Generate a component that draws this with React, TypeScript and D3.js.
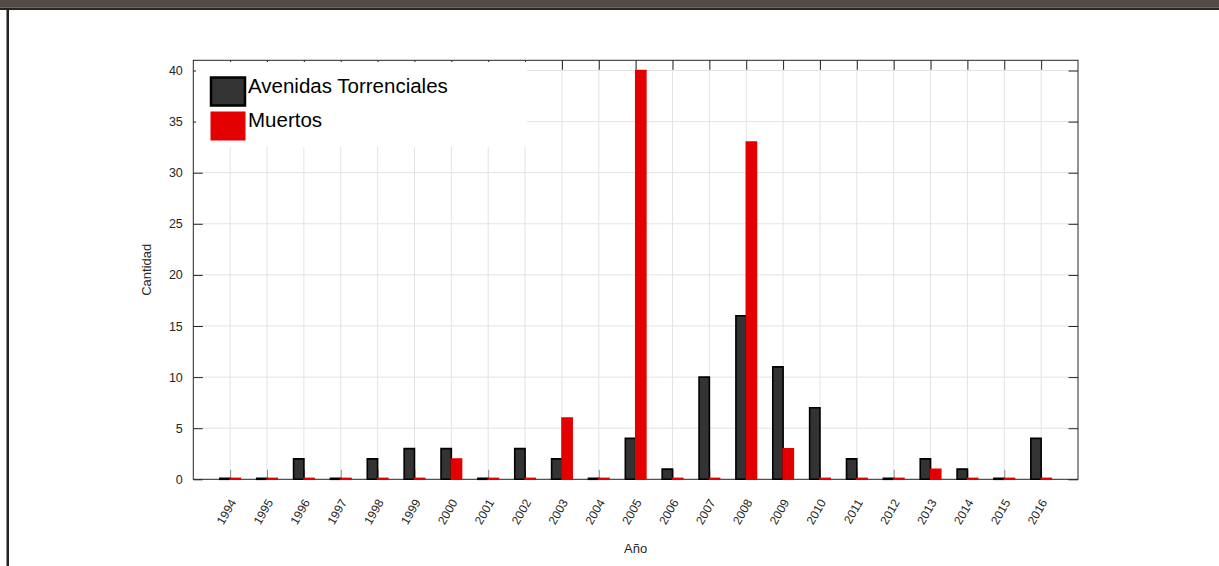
import * as d3 from 'd3'
import React from 'react'

// years on the x axis
const years: number[] = [
    1994, 1995, 1996, 1997, 1998, 1999, 2000, 2001, 2002, 2003, 2004, 2005, 2006, 2007, 2008,
    2009, 2010, 2011, 2012, 2013, 2014, 2015, 2016,
]

// Avenidas Torrenciales per year
const avenidas: number[] = [0, 0, 2, 0, 2, 3, 3, 0, 3, 2, 0, 4, 1, 10, 16, 11, 7, 2, 0, 2, 1, 0, 4]

// Muertos per year
const muertos: number[] = [0, 0, 0, 0, 0, 0, 2, 0, 0, 6, 0, 40, 0, 0, 33, 3, 0, 0, 0, 1, 0, 0, 0]

const yTicks: number[] = [0, 5, 10, 15, 20, 25, 30, 35, 40]

const seriesNames = ['Avenidas Torrenciales', 'Muertos']

const W = 1219
const H = 566
const plot = { left: 193.3, right: 1078, top: 60.3, bottom: 479.3 }
const font = '"Liberation Sans", Arial, Helvetica, sans-serif'
const axisColor = '#262626'
const gridColor = '#e3e3e3'
const barW = 0.28 // in years

const App: React.FC = () => {
    const svgRef = React.useRef<SVGSVGElement | null>(null)

    React.useEffect(() => {
        const svg = d3.select(svgRef.current)
        svg.selectAll('*').remove()

        const x = d3.scaleLinear().domain([1993, 2017]).range([plot.left, plot.right])
        const y = d3.scaleLinear().domain([0, 41]).range([plot.bottom, plot.top])

        // window frame
        svg.append('rect').attr('x', 0).attr('y', 0).attr('width', W).attr('height', H).attr('fill', '#fff')
        svg.append('rect').attr('x', 0).attr('y', 0).attr('width', W).attr('height', 7.5).attr('fill', '#534a46')
        svg.append('rect').attr('x', 0).attr('y', 7.5).attr('width', W).attr('height', 2.5).attr('fill', '#2a2422')
        svg.append('rect').attr('x', 6.5).attr('y', 8).attr('width', 2.5).attr('height', H - 8).attr('fill', '#222')

        // grid
        const grid = svg.append('g')
        grid.selectAll('line.gx')
            .data(years)
            .join('line')
            .attr('class', 'gx')
            .attr('x1', (d) => x(d))
            .attr('x2', (d) => x(d))
            .attr('y1', plot.top)
            .attr('y2', plot.bottom)
            .attr('stroke', gridColor)
            .attr('stroke-width', 1)
        grid.selectAll('line.gy')
            .data(yTicks.slice(1))
            .join('line')
            .attr('class', 'gy')
            .attr('x1', plot.left)
            .attr('x2', plot.right)
            .attr('y1', (d) => y(d))
            .attr('y2', (d) => y(d))
            .attr('stroke', gridColor)
            .attr('stroke-width', 1)

        // inner tick marks (bottom, top, right)
        const tickLen = 9.5
        svg.append('g')
            .attr('transform', `translate(0,${plot.bottom})`)
            .call(d3.axisTop(x).tickValues(years).tickSize(tickLen).tickSizeOuter(0).tickFormat(() => ''))
            .call((g) => g.select('.domain').remove())
            .call((g) => g.selectAll('line').attr('stroke', '#8a8a8a'))
        svg.append('g')
            .attr('transform', `translate(0,${plot.top})`)
            .call(d3.axisBottom(x).tickValues(years).tickSize(tickLen).tickSizeOuter(0).tickFormat(() => ''))
            .call((g) => g.select('.domain').remove())
            .call((g) => g.selectAll('line').attr('stroke', axisColor))
        svg.append('g')
            .attr('transform', `translate(${plot.right},0)`)
            .call(d3.axisLeft(y).tickValues(yTicks).tickSize(tickLen).tickSizeOuter(0).tickFormat(() => ''))
            .call((g) => g.select('.domain').remove())
            .call((g) => g.selectAll('line').attr('stroke', axisColor))

        // left axis with labels
        const yAxis = svg
            .append('g')
            .attr('transform', `translate(${plot.left},0)`)
            .call(d3.axisRight(y).tickValues(yTicks).tickSize(tickLen).tickSizeOuter(0))
        yAxis.select('.domain').remove()
        yAxis.selectAll('line').attr('stroke', axisColor)
        yAxis.selectAll('text')
            .attr('text-anchor', 'end')
            .attr('x', -10.5)
            .attr('dy', '0.32em')
            .attr('fill', axisColor)
            .attr('font-family', font)
            .attr('font-size', 12.5)

        // axes box
        svg.append('rect')
            .attr('x', plot.left)
            .attr('y', plot.top)
            .attr('width', plot.right - plot.left)
            .attr('height', plot.bottom - plot.top)
            .attr('fill', 'none')
            .attr('stroke', axisColor)
            .attr('stroke-width', 1)

        // bars (zero values still show as a thin bar on the baseline)
        const barPath = (x0: number, x1: number, v: number) => {
            const y0 = y(0)
            const y1 = v === 0 ? y0 - 1 : y(v)
            return `M${x0},${y0}H${x1}V${y1}H${x0}Z`
        }
        svg.append('g')
            .selectAll('path')
            .data(years)
            .join('path')
            .attr('d', (d, i) => barPath(x(d - barW), x(d), avenidas[i]))
            .attr('fill', '#333333')
            .attr('stroke', '#000')
            .attr('stroke-width', 1.6)
        svg.append('g')
            .selectAll('path')
            .data(years)
            .join('path')
            .attr('d', (d, i) => barPath(x(d), x(d + barW), muertos[i]))
            .attr('fill', '#e20000')
            .attr('stroke', '#e50000')
            .attr('stroke-width', 1.4)

        // bottom labels
        const xLabels = svg
            .append('g')
            .attr('transform', `translate(0,${plot.bottom})`)
            .call(d3.axisBottom(x).tickValues(years).tickSize(0).tickFormat(d3.format('d')))
        xLabels.select('.domain').remove()
        xLabels.selectAll('text')
            .attr('fill', axisColor)
            .attr('font-family', font)
            .attr('font-size', 12)
            .attr('text-anchor', 'end')
            .attr('y', 0)
            .attr('dy', 0)
            .attr('transform', 'translate(6,23) rotate(-60)')

        // axis titles
        svg.append('text')
            .attr('x', (plot.left + plot.right) / 2)
            .attr('y', 553)
            .attr('text-anchor', 'middle')
            .attr('fill', axisColor)
            .attr('font-family', font)
            .attr('font-size', 13)
            .text('Año')
        svg.append('text')
            .attr('transform', `translate(151,${(plot.top + plot.bottom) / 2}) rotate(-90)`)
            .attr('text-anchor', 'middle')
            .attr('fill', axisColor)
            .attr('font-family', font)
            .attr('font-size', 13)
            .text('Cantidad')

        // legend
        const legend = svg.append('g')
        legend.append('rect')
            .attr('x', 196)
            .attr('y', 62)
            .attr('width', 331)
            .attr('height', 85)
            .attr('fill', '#fff')
        const swatches = [
            { fill: '#333333', stroke: '#000', sw: 2.5 },
            { fill: '#e20000', stroke: '#e50000', sw: 1 },
        ]
        seriesNames.forEach((name, i) => {
            const top = 77.5 + i * 34.5
            legend.append('rect')
                .attr('x', 211)
                .attr('y', top)
                .attr('width', 34)
                .attr('height', 28)
                .attr('fill', swatches[i].fill)
                .attr('stroke', swatches[i].stroke)
                .attr('stroke-width', swatches[i].sw)
            legend.append('text')
                .attr('x', 248)
                .attr('y', top + 15)
                .attr('fill', '#000')
                .attr('font-family', font)
                .attr('font-size', 20.5)
                .text(name)
        })
    }, [])

    return (
        <svg
            ref={svgRef}
            width={W}
            height={H}
            viewBox={`0 0 ${W} ${H}`}
            style={{ position: 'absolute', left: 0, top: 0, display: 'block' }}
        ></svg>
    )
}

export default App
